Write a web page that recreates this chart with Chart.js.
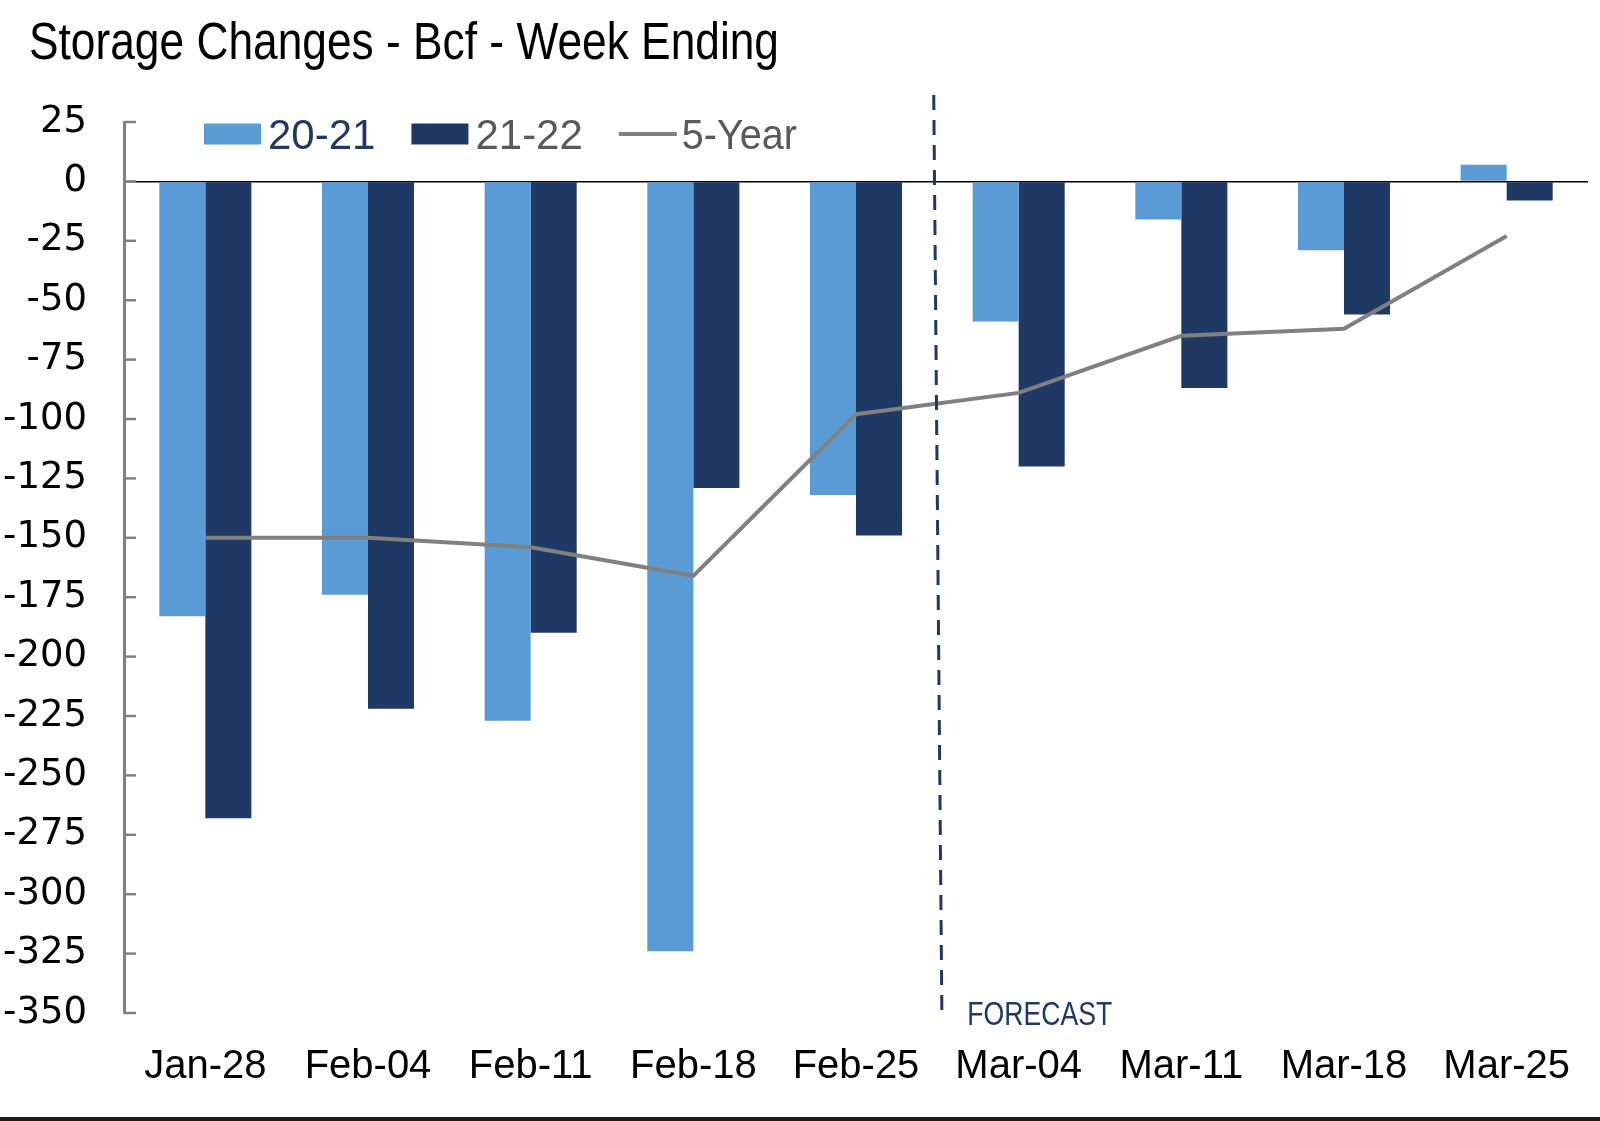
<!DOCTYPE html>
<html>
<head>
<meta charset="utf-8">
<script src="https://cdn.jsdelivr.net/npm/chart.js@4.4.1/dist/chart.umd.min.js"></script>
<style>
  html, body { margin: 0; padding: 0; background: #fff; }
  #wrap { position: relative; width: 1600px; height: 1117px; }
  #bar { width: 1600px; height: 4px; background: #1c1c1c; }
</style>
</head>
<body>
<div id="wrap"><canvas id="c" width="1600" height="1117"></canvas></div>
<div id="bar"></div>
<script>
const titleText = 'Storage Changes - Bcf - Week Ending';
const categories = ['Jan-28', 'Feb-04', 'Feb-11', 'Feb-18', 'Feb-25', 'Mar-04', 'Mar-11', 'Mar-18', 'Mar-25'];
const series2021 = [-183, -174, -227, -324, -132, -59, -16, -29, 7];
const series2122 = [-268, -222, -190, -129, -149, -120, -87, -56, -8];
const fiveYear = [-150, -150, -154, -166, -98, -89, -65, -62, -23];
const yTicks = { min: -350, max: 25, step: 25 };
const forecastAt = 4.5;
const forecastLabel = 'FORECAST';

const LIGHT = '#5b9bd5';
const DARK = '#203864';
const GRAY = '#808080';

function condensedText(ctx, text, x, y, width) {
  const w = ctx.measureText(text).width;
  ctx.save();
  ctx.translate(x, y);
  ctx.scale(width / w, 1);
  ctx.fillText(text, 0, 0);
  ctx.restore();
}

const extras = {
  id: 'extras',
  afterDraw(chart) {
    const ctx = chart.ctx;
    const ca = chart.chartArea;
    const xs = chart.scales.x, ys = chart.scales.y;
    ctx.save();
    // inner tick marks on y axis
    ctx.strokeStyle = GRAY;
    ctx.lineWidth = 2.5;
    ys.ticks.forEach(t => {
      const y = ys.getPixelForValue(t.value);
      ctx.beginPath();
      ctx.moveTo(ca.left, y);
      ctx.lineTo(ca.left + 12, y);
      ctx.stroke();
    });
    // forecast dashed line
    ctx.strokeStyle = DARK;
    ctx.lineWidth = 3;
    ctx.setLineDash([15, 10]);
    ctx.beginPath();
    ctx.moveTo(xs.getPixelForValue(forecastAt - 0.022), ca.top - 27);
    ctx.lineTo(xs.getPixelForValue(forecastAt + 0.028), ca.bottom);
    ctx.stroke();
    ctx.setLineDash([]);
    // forecast label
    ctx.fillStyle = DARK;
    ctx.font = '33px "Liberation Sans", sans-serif';
    ctx.textBaseline = 'alphabetic';
    ctx.textAlign = 'left';
    condensedText(ctx, forecastLabel, xs.getPixelForValue(forecastAt) + 30, ca.bottom + 12, 145);
    // title
    ctx.fillStyle = '#000';
    ctx.font = '51px "Liberation Sans", sans-serif';
    condensedText(ctx, titleText, 29, 59, 750);
    // legend
    const ds = chart.data.datasets;
    ctx.font = '42px "Liberation Sans", sans-serif';
    let x = 204;
    const yMid = 134, yBase = 149;
    const items = [
      { label: ds[1].label, type: 'box', color: LIGHT, text: DARK },
      { label: ds[2].label, type: 'box', color: DARK, text: '#595959' },
      { label: ds[0].label, type: 'line', color: GRAY, text: '#595959' }
    ];
    items.forEach(it => {
      if (it.type === 'box') {
        ctx.fillStyle = it.color;
        ctx.fillRect(x, yMid - 10.5, 57, 21);
      } else {
        ctx.strokeStyle = it.color;
        ctx.lineWidth = 4;
        ctx.beginPath();
        ctx.moveTo(x, yMid);
        ctx.lineTo(x + 58, yMid);
        ctx.stroke();
      }
      const tx = x + 64;
      ctx.fillStyle = it.text;
      const w = ctx.measureText(it.label).width;
      if (it.type === 'line') {
        condensedText(ctx, it.label, tx - 1, yBase, 115);
      } else {
        ctx.fillText(it.label, tx, yBase);
      }
      x = tx + w + 36;
    });
    ctx.restore();
  }
};

new Chart(document.getElementById('c'), {
  type: 'bar',
  data: {
    labels: categories,
    datasets: [
      { type: 'line', label: '5-Year', data: fiveYear, borderColor: GRAY, borderWidth: 4,
        pointRadius: 0, tension: 0, fill: false, order: 0 },
      { label: '20-21', data: series2021, backgroundColor: LIGHT, order: 1,
        barPercentage: 1, categoryPercentage: 0.566 },
      { label: '21-22', data: series2122, backgroundColor: DARK, order: 1,
        barPercentage: 1, categoryPercentage: 0.566 }
    ]
  },
  options: {
    responsive: false,
    animation: false,
    layout: { padding: { top: 122, right: 12, bottom: 0, left: 0 } },
    plugins: { legend: { display: false }, tooltip: { enabled: false }, title: { display: false } },
    scales: {
      x: {
        grid: { display: false },
        border: { display: false },
        ticks: { font: { family: 'Liberation Sans', size: 40 }, color: '#000', padding: 22,
          maxRotation: 0, autoSkip: false },
        afterFit(s) { s.height = 104; }
      },
      y: {
        min: yTicks.min, max: yTicks.max,
        ticks: { stepSize: yTicks.step, autoSkip: false, font: { family: 'DejaVu Sans', size: 37 },
          color: '#000', padding: 37 },
        grid: { drawTicks: false, color: c => c.tick && c.tick.value === 0 ? '#000' : 'rgba(0,0,0,0)', lineWidth: 1.5 },
        border: { color: GRAY, width: 3 },
        afterFit(s) { s.width = 124; }
      }
    }
  },
  plugins: [extras]
});
</script>
</body>
</html>
